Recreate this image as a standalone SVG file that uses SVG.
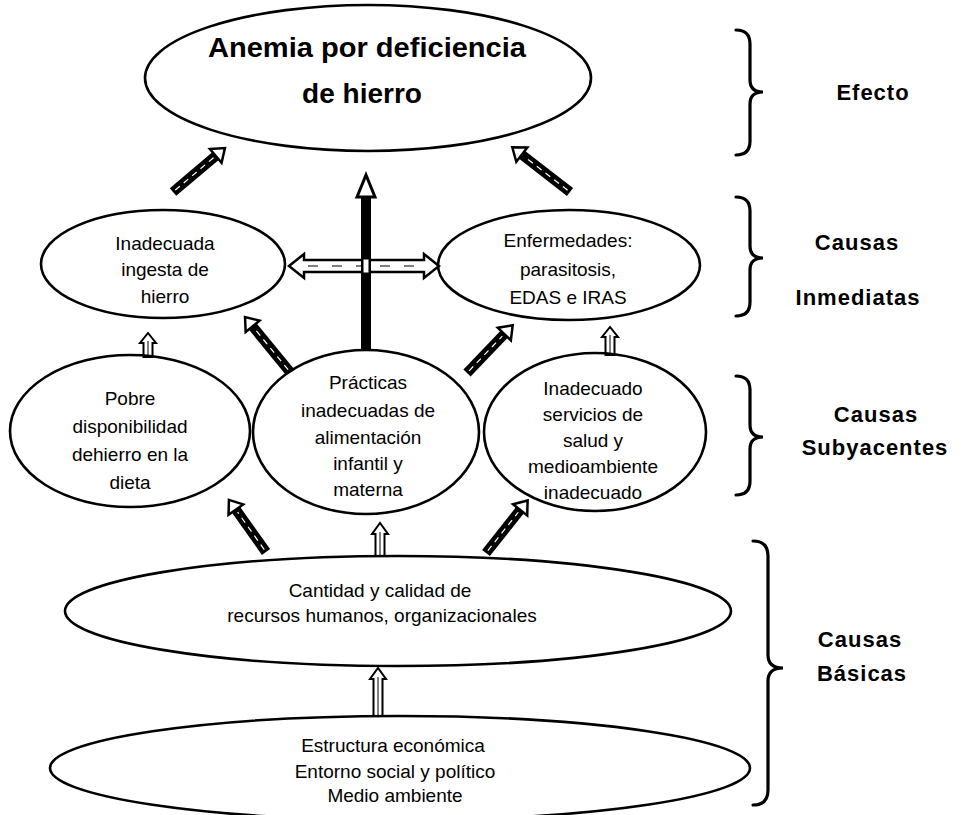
<svg xmlns="http://www.w3.org/2000/svg" width="966" height="815" viewBox="0 0 966 815">
<style>
.node{fill:none;stroke:#000;stroke-width:2.6}
.t{font-family:"Liberation Sans",Arial,sans-serif;font-size:19px;fill:#000;text-anchor:middle}
.title{font-family:"Liberation Sans",Arial,sans-serif;font-size:28px;font-weight:bold;fill:#000;text-anchor:middle}
.lab{font-family:"Liberation Sans",Arial,sans-serif;font-size:22px;font-weight:bold;letter-spacing:1px;fill:#000;text-anchor:middle}
.brace{fill:none;stroke:#000;stroke-width:3.2;stroke-linecap:round}
.shaft{fill:#000}
.head{fill:#fff;stroke:#000;stroke-width:2.5;stroke-linejoin:miter}
.streak{stroke:#fff;stroke-width:1.2;stroke-dasharray:6 5}
.hollow{fill:#fff;stroke:#000;stroke-width:2}
.mid{stroke:#000;stroke-width:1}
</style>
<rect width="966" height="815" fill="#fff"/>

<g id="connectors">
  <g transform="translate(173,192) rotate(-40.2)"><rect class="shaft" x="0" y="-5" width="56" height="10"/><polygon class="head" points="56,-9 68,0 56,9"/><line class="streak" x1="3" y1="0" x2="53" y2="0"/></g>
  <g transform="translate(570,192) rotate(-142.2)"><rect class="shaft" x="0" y="-5" width="61" height="10"/><polygon class="head" points="61,-9 73,0 61,9"/><line class="streak" x1="3" y1="0" x2="58" y2="0"/></g>
  <g transform="translate(290,372) rotate(-129.3)"><rect class="shaft" x="0" y="-5" width="59" height="10"/><polygon class="head" points="59,-9 71,0 59,9"/><line class="streak" x1="3" y1="0" x2="56" y2="0"/></g>
  <g transform="translate(467,373) rotate(-46.2)"><rect class="shaft" x="0" y="-5" width="54" height="10"/><polygon class="head" points="54,-9 66,0 54,9"/><line class="streak" x1="3" y1="0" x2="51" y2="0"/></g>
  <g transform="translate(266,552) rotate(-125.4)"><rect class="shaft" x="0" y="-5" width="52" height="10"/><polygon class="head" points="52,-9 64,0 52,9"/><line class="streak" x1="3" y1="0" x2="49" y2="0"/></g>
  <g transform="translate(486,553) rotate(-51.6)"><rect class="shaft" x="0" y="-5" width="55" height="10"/><polygon class="head" points="55,-9 67,0 55,9"/><line class="streak" x1="3" y1="0" x2="52" y2="0"/></g>

  <g transform="translate(148,357) rotate(-90)"><polygon class="hollow" points="0,-4.5 14,-4.5 14,-8 24,0 14,8 14,4.5 0,4.5"/><line class="mid" x1="0" y1="0" x2="16" y2="0"/></g>
  <g transform="translate(610,355) rotate(-90)"><polygon class="hollow" points="0,-4.5 18,-4.5 18,-8 28,0 18,8 18,4.5 0,4.5"/><line class="mid" x1="0" y1="0" x2="20" y2="0"/></g>
  <g transform="translate(380,556) rotate(-90)"><polygon class="hollow" points="0,-4.5 22,-4.5 22,-8 33,0 22,8 22,4.5 0,4.5"/><line class="mid" x1="0" y1="0" x2="24" y2="0"/></g>
  <g transform="translate(378,716) rotate(-90)"><polygon class="hollow" points="0,-4.5 37,-4.5 37,-8 48,0 37,8 37,4.5 0,4.5"/><line class="mid" x1="0" y1="0" x2="39" y2="0"/></g>

  <polygon class="hollow" style="stroke-width:2.5" points="289,266 304,254 304,260 424,260 424,254 439,266 424,278 424,272 304,272 304,278"/>
  <line x1="308" y1="266" x2="420" y2="266" stroke="#000" stroke-width="1" stroke-dasharray="10 14"/>

  <rect class="shaft" x="361" y="195" width="10" height="154"/>
  <polygon class="head" style="stroke-width:3" points="357,197 366,175 375,197"/>
  <rect x="363" y="259" width="6" height="14" fill="#fff" stroke="#000" stroke-width="1"/>
</g>

<g id="n-anemia">
  <ellipse class="node" cx="368" cy="78" rx="223" ry="73"/>
  <text class="title" x="367" y="57" textLength="318" lengthAdjust="spacingAndGlyphs">Anemia por deficiencia</text>
  <text class="title" x="362" y="103">de hierro</text>
</g>
<g id="n-ingesta">
  <ellipse class="node" cx="163" cy="264" rx="122" ry="54"/>
  <text class="t" x="165" y="250">Inadecuada</text>
  <text class="t" x="165" y="276">ingesta de</text>
  <text class="t" x="165" y="303">hierro</text>
</g>
<g id="n-enfermedades">
  <ellipse class="node" cx="569" cy="265" rx="131" ry="55"/>
  <text class="t" x="568" y="247">Enfermedades:</text>
  <text class="t" x="568" y="276">parasitosis,</text>
  <text class="t" x="568" y="304">EDAS e IRAS</text>
</g>
<g id="n-pobre">
  <ellipse class="node" cx="130" cy="431" rx="120" ry="76"/>
  <text class="t" x="130" y="405">Pobre</text>
  <text class="t" x="130" y="433">disponibilidad</text>
  <text class="t" x="130" y="461">dehierro en la</text>
  <text class="t" x="130" y="489">dieta</text>
</g>
<g id="n-practicas">
  <ellipse class="node" cx="366" cy="432" rx="113" ry="82"/>
  <text class="t" x="368" y="389">Prácticas</text>
  <text class="t" x="368" y="417">inadecuadas de</text>
  <text class="t" x="368" y="444">alimentación</text>
  <text class="t" x="368" y="470">infantil y</text>
  <text class="t" x="368" y="496">materna</text>
</g>
<g id="n-servicios">
  <ellipse class="node" cx="595" cy="432" rx="111" ry="79"/>
  <text class="t" x="593" y="395">Inadecuado</text>
  <text class="t" x="593" y="421">servicios de</text>
  <text class="t" x="593" y="447">salud y</text>
  <text class="t" x="593" y="473">medioambiente</text>
  <text class="t" x="593" y="499">inadecuado</text>
</g>
<g id="n-cantidad">
  <ellipse class="node" cx="398" cy="611" rx="333" ry="55"/>
  <text class="t" x="380" y="597">Cantidad y calidad de</text>
  <text class="t" x="382" y="622">recursos humanos, organizacionales</text>
</g>
<g id="n-estructura">
  <ellipse class="node" cx="400" cy="768" rx="350" ry="52"/>
  <text class="t" x="393" y="752">Estructura económica</text>
  <text class="t" x="395" y="778">Entorno social y político</text>
  <text class="t" x="395" y="802">Medio ambiente</text>
</g>

<g id="levels">
  <path class="brace" d="M736,30 Q750,30 750,44 L750,80 Q750,92 763,92 Q750,92 750,104 L750,141 Q750,155 736,155"/>
  <text class="lab" x="873" y="100">Efecto</text>
  <path class="brace" d="M736,197 Q750,197 750,211 L750,246 Q750,258 763,258 Q750,258 750,270 L750,302 Q750,316 736,316"/>
  <text class="lab" x="857" y="250">Causas</text>
  <text class="lab" x="858" y="305">Inmediatas</text>
  <path class="brace" d="M736,376 Q750,376 750,390 L750,425 Q750,437 763,437 Q750,437 750,449 L750,481 Q750,495 736,495"/>
  <text class="lab" x="876" y="422">Causas</text>
  <text class="lab" x="875" y="455">Subyacentes</text>
  <path class="brace" d="M753,541 Q768,541 768,556 L768,655 Q768,668 783,668 Q768,668 768,681 L768,790 Q768,805 753,805"/>
  <text class="lab" x="860" y="647">Causas</text>
  <text class="lab" x="862" y="681">Básicas</text>
</g>
</svg>
